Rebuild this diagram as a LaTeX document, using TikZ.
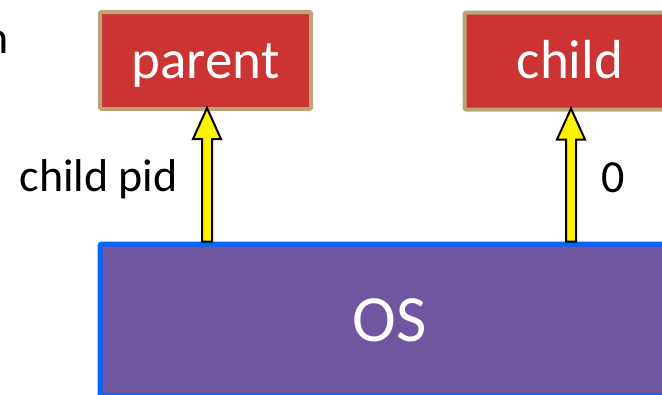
\documentclass[tikz,border=0pt]{standalone}
\usepackage{fontspec}
\setmainfont{Carlito}
\usetikzlibrary{calc}
\definecolor{boxred}{RGB}{204,51,51}
\definecolor{boxtan}{RGB}{185,165,120}
\definecolor{ospurple}{RGB}{112,85,160}
\definecolor{osblue}{RGB}{0,102,255}
\tikzset{
  procbox/.style={draw=boxtan, line width=4pt, fill=boxred, rounded corners=1.5pt,
    minimum width=211pt, minimum height=97pt, inner sep=0pt, text=white,
    text height=40pt, text depth=5pt,
    font=\fontsize{55}{60}\selectfont},
  osbox/.style={draw=osblue, line width=5pt, fill=ospurple, rounded corners=2pt,
    minimum width=580pt, minimum height=152pt, inner sep=0pt, text=white,
    font=\fontsize{66}{70}\selectfont},
  lbl/.style={inner sep=0pt, text=black, font=\fontsize{46}{50}\selectfont},
  blockarr/.style={fill=yellow, draw=black, line width=2pt, line join=miter}
}
\newcommand\blockarrow[2]{%
  \draw[blockarr] let \p1=(#1), \p2=(#2) in
    (\x1-5pt,\y1) -- (\x1-5pt,\y2-31pt) -- (\x1-14pt,\y2-31pt) -- (\x1,\y2)
    -- (\x1+14pt,\y2-31pt) -- (\x1+5pt,\y2-31pt) -- (\x1+5pt,\y1) -- cycle;}
\begin{document}
\begin{tikzpicture}[x=1pt,y=-1pt]
\useasboundingbox (0,0) rectangle (662,394);
\clip (0,0) rectangle (662,394);
\node[procbox] (parent) at (205.5,60.5) {parent};
\node[procbox] (child) at (570,61) {child};
\node[osbox] (os) at (390,320) {OS};
\node[lbl, anchor=base east] (n) at (9,53) {n};
\node[lbl, anchor=base east] (pidlbl) at (178,191) {child pid};
\node[lbl, anchor=base west] (zerolbl) at (601,192) {0};
\coordinate (a1s) at ($(parent.south |- os.north)+(1.5,0)$);
\coordinate (a1t) at ($(parent.south)+(1.5,-3)$);
\coordinate (a2s) at ($(child.south |- os.north)+(1,0)$);
\coordinate (a2t) at ($(child.south)+(1,-3)$);
\blockarrow{a1s}{a1t}
\blockarrow{a2s}{a2t}
\end{tikzpicture}
\end{document}
